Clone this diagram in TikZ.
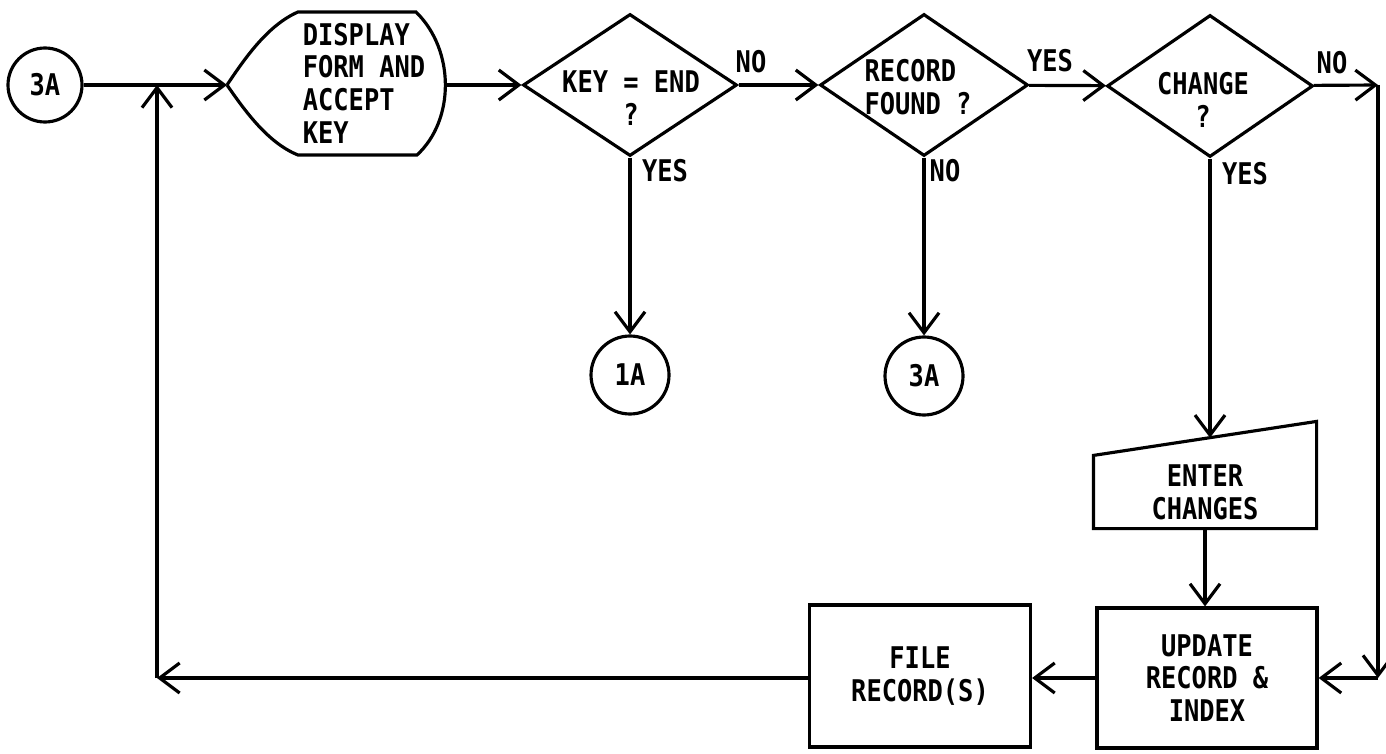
\documentclass[tikz,border=0pt]{standalone}
\usepackage{fontspec}
\newfontfamily\leroy[FakeStretch=0.85]{DejaVu Sans Mono}
\usetikzlibrary{arrows.meta, shapes.geometric}

\begin{document}
\begin{tikzpicture}[line width=0.9pt, >={Straight Barb[length=2mm,width=3mm]},
    every node/.style={font=\leroy\bfseries\fontsize{8.5}{9.3}\selectfont, inner sep=0pt},
    conn/.style={draw, circle, minimum size=0.78cm},
    decision/.style={draw, diamond, minimum width=2.1cm, minimum height=1.42cm},
    procbox/.style={draw, rectangle, minimum width=2.2cm, minimum height=1.4cm, align=center},
    txt/.style={align=center}]
  \useasboundingbox (0,0) rectangle (13.86,7.53);
  % entry connector and display
  \node[conn, minimum size=0.74cm] (c3a) at (0.45,6.68) {3A};
  \coordinate (dispin) at (2.27,6.68);
  \coordinate (dispout) at (4.46,6.68);
  \draw (dispin) .. controls (2.45,6.95) and (2.68,7.28) .. (2.98,7.41) -- (4.16,7.41)
    .. controls (4.55,7.03) and (4.55,6.33) .. (4.17,5.98) -- (2.98,5.98)
    .. controls (2.68,6.10) and (2.45,6.42) .. (dispin);
  \node[align=left] (display) at (3.64,6.70) {DISPLAY\\FORM AND\\ACCEPT\\KEY};
  % decisions
  \node[decision, minimum width=2.14cm] (keyend) at (6.30,6.68) {};
  \node[txt] (keyendtxt) at (6.31,6.55) {KEY = END\\?};
  \node[decision, minimum width=2.08cm] (found) at (9.24,6.68) {};
  \node[align=left] (foundtxt) at (9.18,6.66) {RECORD\\FOUND ?};
  \node[decision, minimum width=2.06cm] (change) at (12.10,6.67) {};
  \node[txt] (changetxt) at (12.03,6.53) {CHANGE\\?};
  \node (nokey) at (7.51,6.91) {NO};
  \node (yeskey) at (6.65,5.82) {YES};
  \node (yesfound) at (10.50,6.92) {YES};
  \node (nofound) at (9.45,5.82) {NO};
  \node (nochange) at (13.32,6.90) {NO};
  \node (yeschange) at (12.45,5.79) {YES};
  % exits
  \node[conn] (c1a) at (6.30,3.78) {1A};
  \node[conn] (c3b) at (9.24,3.77) {3A};
  % manual input and processes
  \node[txt, minimum width=2.2cm, minimum height=0.7cm] (enter) at (12.05,2.61) {ENTER\\CHANGES};
  \draw (enter.south west) -- (enter.south east) -- ([yshift=0.34cm]enter.north east)
    -- coordinate[pos=0.48] (entertop) (enter.north west) -- cycle;
  \node[procbox] (update) at (12.07,0.75) {UPDATE\\RECORD \&\\INDEX};
  \node[procbox, minimum width=2.21cm, minimum height=1.42cm] (file) at (9.20,0.77) {FILE\\RECORD(S)};
  \coordinate (cornerTR) at (13.78,6.68);
  \coordinate (cornerBR) at (13.78,0.75);
  \coordinate (cornerBL) at (1.57,0.75);
  % flow
  \draw[->] (c3a) -- (dispin);
  \draw[->] (dispout) -- (keyend);
  \draw[->] (keyend) -- (found);
  \draw[->] (found) -- (change);
  \draw[->] (keyend.south) -- (keyend.south |- c1a.north);
  \draw[->] (found.south) -- (found.south |- c3b.north);
  \draw[->] (change.south) -- (change.south |- entertop);
  \draw[->] (enter.south) -- (enter.south |- update.north);
  \draw[->] (change) -- (cornerTR);
  \draw[->] (cornerTR) -- (cornerBR);
  \draw[->] (cornerBR) -- (update);
  \draw[->] (update.west) -- (update.west -| file.east);
  \draw[->] (update.west -| file.west) -- (cornerBL);
  \draw[->] (cornerBL) -- (cornerBL |- c3a);
\end{tikzpicture}
\end{document}
